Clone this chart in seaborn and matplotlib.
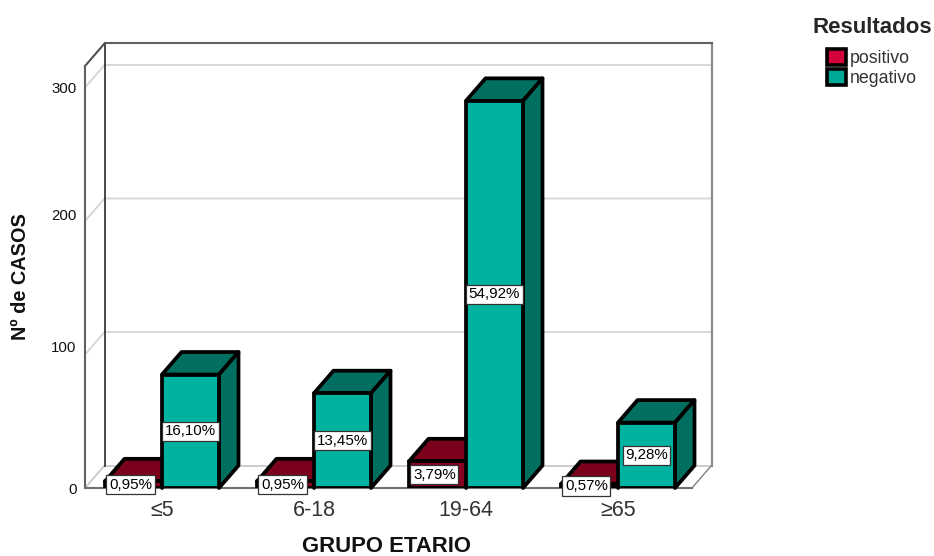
import matplotlib
matplotlib.use("Agg")
import matplotlib.pyplot as plt
from matplotlib.patches import Polygon, Patch
from matplotlib.transforms import ScaledTranslation
import pandas as pd
import seaborn as sns

# Cases per age group and test result
age_groups = ["≤5", "6-18", "19-64", "≥65"]
positive_cases = [5, 5, 20, 3]
negative_cases = [85, 71, 290, 49]
positive_labels = ["0,95%", "0,95%", "3,79%", "0,57%"]
negative_labels = ["16,10%", "13,45%", "54,92%", "9,28%"]
result_names = ["positivo", "negativo"]
value_ticks = [0, 100, 200, 300]

sns.set_theme(style="white")
plt.rcParams["font.family"] = ["Liberation Sans", "DejaVu Sans"]

W, H = 934, 556
fig = plt.figure(figsize=(W / 100, H / 100), dpi=100)
ax = fig.add_axes([85 / W, (H - 488) / H, 607 / W, 422 / H])

df = pd.DataFrame({
    "grupo": age_groups * 2,
    "casos": positive_cases + negative_cases,
    "resultado": [result_names[0]] * 4 + [result_names[1]] * 4,
})
front = {"positivo": "#86001F", "negativo": "#00B3A0"}
shade = {"positivo": "#7A001C", "negativo": "#006F60"}
swatch = {"positivo": "#D4003A", "negativo": "#00A896"}
EDGE = 2.7

sns.barplot(data=df, x="grupo", y="casos", hue="resultado", order=age_groups,
            hue_order=result_names, palette=front, width=0.75, gap=0, saturation=1,
            edgecolor="black", linewidth=EDGE, legend=False, ax=ax, zorder=3)

PX_X = 152.0            # pixels per category step
PX_Y = 1.335            # pixels per case
ax.set_xlim(-77 / PX_X, 530 / PX_X)
ax.set_ylim(0, 422 / PX_Y)

# Oblique offset of the back plane
dx, dy = 19.5 / PX_X, 22.5 / PX_Y
x0, x1 = ax.get_xlim()
y0, y1 = ax.get_ylim()

def seg(xs, ys, color, lw, z=1):
    ax.plot(xs, ys, color=color, lw=lw, zorder=z, clip_on=False, solid_capstyle="projecting")

# Wall gridlines, then the box outline
for v in value_ticks[1:]:
    seg([x0, x0 + dx, x1 + dx], [v, v + dy, v + dy], "#d4d4d4", 1.3, 1)
seg([x0 + dx, x1 + dx], [dy, dy], "#c8c8c8", 1.3, 1)
seg([x0, x0 + dx], [0, dy], "#c8c8c8", 1.3, 1)
seg([x1, x1 + dx], [0, dy], "#808080", 1.0, 1)
seg([x1 + dx, x1 + dx], [dy, y1 + dy], "#8c8c8c", 1.6, 1.1)
seg([x0 + dx, x0 + dx], [dy, y1 + dy], "#2a2a2a", 1.2, 1.1)
seg([x0 + dx, x1 + dx], [y1 + dy, y1 + dy], "#606060", 1.5, 1.1)
seg([x0, x0 + dx], [y1, y1 + dy], "#505050", 1.5, 1.1)
seg([x0, x0], [0, y1], "#606060", 1.5, 1.1)
seg([x0, x1], [0, 0], "#707070", 1.5, 1.1)

# Extrude each bar and write its percentage in a white box
all_labels = [positive_labels, negative_labels]
for i, (cont, name) in enumerate(zip(ax.containers, result_names)):
    for bar, text in zip(cont, all_labels[i]):
        x, w, h = bar.get_x(), bar.get_width(), bar.get_height()
        bar.set_zorder(2.1 + i)
        bar.set_joinstyle("round")
        top = [(x, h), (x + w, h), (x + w + dx, h + dy), (x + dx, h + dy)]
        side = [(x + w, 0), (x + w + dx, dy), (x + w + dx, h + dy), (x + w, h)]
        for pts in (top, side):
            ax.add_patch(Polygon(pts, closed=True, facecolor=shade[name], edgecolor="black",
                                 linewidth=EDGE, joinstyle="round", clip_on=False, zorder=2 + i))
        ax.annotate(text, (x + w / 2, h / 2), xytext=(-2.2 if i == 0 else 0, 0),
                    textcoords="offset points", ha="center", va="center",
                    fontsize=10.9, color="black", zorder=6, annotation_clip=False,
                    bbox=dict(boxstyle="square,pad=0.17", fc="white", ec="#333333", lw=0.9))

# Axes furniture
sns.despine(ax=ax, left=True, bottom=True, top=True, right=True)
ax.set_xticks(range(len(age_groups)), age_groups)
ax.set_yticks(value_ticks, [str(v) for v in value_ticks])
ax.tick_params(axis="both", length=0)
ax.tick_params(axis="x", labelsize=15.5, labelcolor="#333333", pad=8.5)
ax.tick_params(axis="y", labelsize=10.8, labelcolor="#111111", pad=6)
for lab, nudge in zip(ax.get_yticklabels(), [0, 8, 6, 0]):
    lab.set_transform(lab.get_transform() + ScaledTranslation(0, nudge / 100, fig.dpi_scale_trans))
ax.set_xlabel("")
ax.set_ylabel("")
ax.patch.set_visible(False)
fig.text(387 / W, 1 - 547 / H, "GRUPO ETARIO", ha="center", va="center",
         fontsize=15.9, fontweight="bold", color="#111111")
fig.text(21 / W, 1 - 277 / H, "Nº de CASOS", ha="center", va="center", rotation=90,
         fontsize=14.3, fontweight="bold", color="#111111")

handles = [Patch(facecolor=swatch[n], edgecolor="black", linewidth=2.6, label=n) for n in result_names]
leg = fig.legend(handles=handles, title="Resultados", loc="upper left", frameon=False,
                 bbox_to_anchor=(796 / W, 1 - 1 / H), bbox_transform=fig.transFigure,
                 fontsize=12.8, title_fontproperties={"size": 16, "weight": "bold"},
                 handlelength=1.05, handleheight=1.0, handletextpad=0.2, labelspacing=0.1,
                 borderpad=0.4)
leg.set_alignment("center")
leg._legend_box.sep = 8
for t in leg.get_texts():
    t.set_color("#333333")

fig.savefig("out.png", dpi=100, facecolor="white")
